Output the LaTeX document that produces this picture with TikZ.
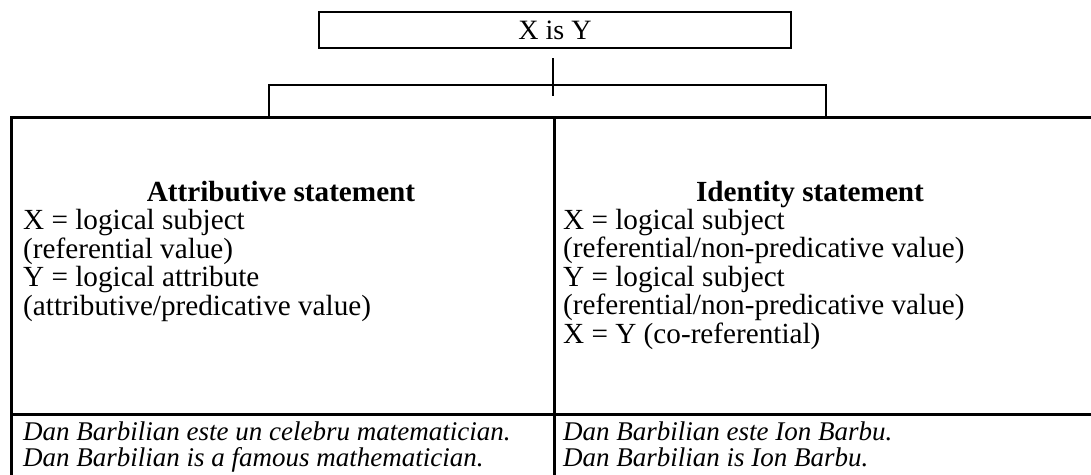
\documentclass[tikz,border=0pt]{standalone}
\usepackage{fontspec}
\setmainfont{Liberation Serif}
\usetikzlibrary{calc,positioning}

\begin{document}
\begin{tikzpicture} [x=1pt, y=-1pt,
    topbox/.style={draw, line width=2pt, minimum width=472pt, minimum height=36pt, inner sep=0pt, font=\fontsize{28}{28}\selectfont},
    cell/.style={draw, line width=2.5pt, anchor=north west, inner sep=0pt},
    headtext/.style={anchor=base, inner sep=0pt, font=\fontsize{29.2}{28.4}\selectfont\bfseries},
    bodytext/.style={anchor=base west, inner sep=0pt, align=left, font=\fontsize{29.2}{28.4}\selectfont},
    exampletext/.style={anchor=base west, inner sep=0pt, align=left, font=\fontsize{27}{26}\selectfont\itshape}
  ]

\useasboundingbox (0,0) rectangle (1091,474);
\clip (0,0) rectangle (1091,474);

\node [topbox] (xisy) at (555,30) {X is Y};

% table cells
\node [cell, minimum width=543pt, minimum height=297pt] (attrcell) at (10,116) {};
\node [cell, minimum width=560pt, minimum height=297pt] (idcell) at (553,116) {};
\node [cell, minimum width=543pt, minimum height=80pt] (attrex) at (10,413) {};
\node [cell, minimum width=560pt, minimum height=80pt] (idex) at (553,413) {};

% bracket
\coordinate (bl) at (269,85);
\coordinate (br) at (826,85);
\draw [line width=1.5pt] ($(xisy.south)+(-2,9)$) -- ++(0,38);
\draw [line width=2pt] (bl |- attrcell.north) -- (bl) -- (br) -- (br |- idcell.north);

% base anchor sits on the last line
\node [headtext] (attrhead) at (281,201) {Attributive statement};
\node [bodytext] (attrbody) at (23,315) {X = logical subject\\(referential value)\\Y = logical attribute\\(attributive/predicative value)};

\node [headtext] (idhead) at (810,201) {Identity statement};
\node [bodytext] (idbody) at (563,343) {X = logical subject\\(referential/non-predicative value)\\Y = logical subject\\(referential/non-predicative value)\\X = Y (co-referential)};

\node [exampletext] (attrsent) at (23,466) {Dan Barbilian este un celebru matematician.\\Dan Barbilian is a famous mathematician.};
\node [exampletext] (idsent) at (563,466) {Dan Barbilian este Ion Barbu.\\Dan Barbilian is Ion Barbu.};

\end{tikzpicture}
\end{document}
